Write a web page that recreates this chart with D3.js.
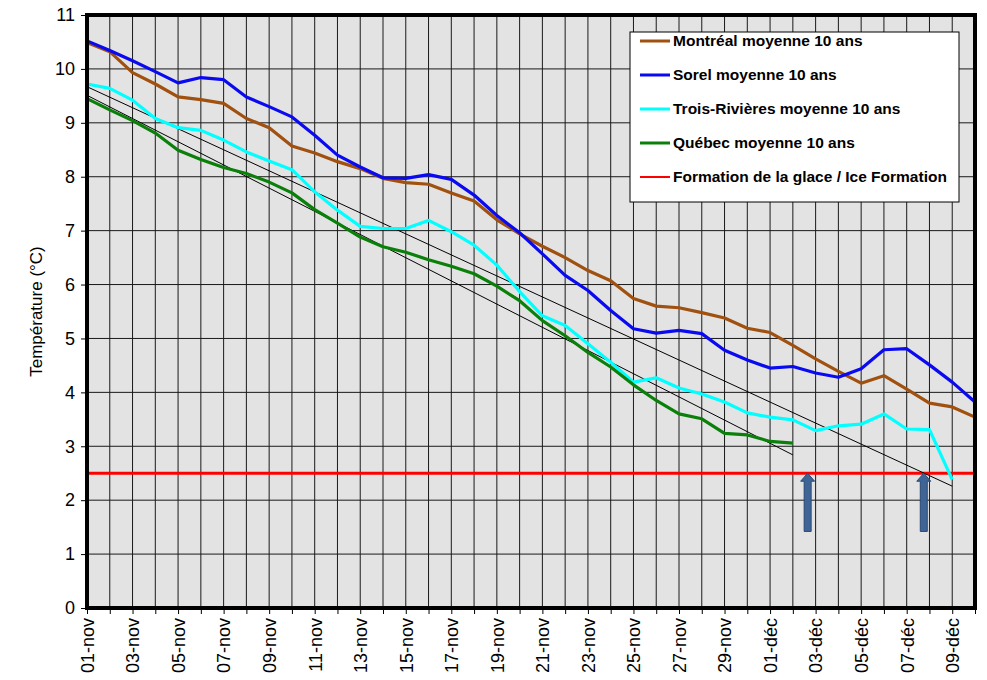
<!DOCTYPE html>
<html>
<head>
<meta charset="utf-8">
<script src="https://cdn.jsdelivr.net/npm/d3@7"></script>
<style>
  body { margin: 0; background: #fff; }
  text { font-family: Arial, "Liberation Sans", sans-serif; }
</style>
</head>
<body>
<div id="chart"></div>
<script>
// categories (one per day)
const dates = ["01-nov","02-nov","03-nov","04-nov","05-nov","06-nov","07-nov","08-nov","09-nov","10-nov",
  "11-nov","12-nov","13-nov","14-nov","15-nov","16-nov","17-nov","18-nov","19-nov","20-nov",
  "21-nov","22-nov","23-nov","24-nov","25-nov","26-nov","27-nov","28-nov","29-nov","30-nov",
  "01-déc","02-déc","03-déc","04-déc","05-déc","06-déc","07-déc","08-déc","09-déc","10-déc"];

const montreal = [10.49,10.32,9.93,9.72,9.48,9.43,9.36,9.08,8.91,8.57,
  8.44,8.28,8.15,7.97,7.89,7.86,7.70,7.55,7.20,6.94,
  6.71,6.50,6.26,6.07,5.74,5.60,5.57,5.48,5.38,5.19,
  5.11,4.87,4.62,4.39,4.17,4.31,4.06,3.80,3.73,3.54];

const sorel = [10.52,10.34,10.15,9.95,9.74,9.84,9.80,9.48,9.30,9.11,
  8.77,8.40,8.18,7.98,7.97,8.04,7.95,7.66,7.28,6.96,
  6.57,6.17,5.89,5.52,5.18,5.10,5.15,5.09,4.78,4.60,
  4.45,4.48,4.36,4.28,4.44,4.79,4.81,4.51,4.19,3.82];

const troisRivieres = [9.72,9.64,9.42,9.08,8.91,8.86,8.68,8.46,8.29,8.13,
  7.72,7.38,7.08,7.04,7.04,7.19,6.98,6.73,6.36,5.87,
  5.42,5.24,4.90,4.56,4.19,4.27,4.08,3.97,3.82,3.62,
  3.54,3.49,3.29,3.38,3.41,3.60,3.32,3.31,2.38,null];

const quebec = [9.45,9.24,9.04,8.81,8.49,8.32,8.17,8.06,7.90,7.70,
  7.39,7.14,6.88,6.70,6.60,6.46,6.34,6.20,5.97,5.70,
  5.33,5.05,4.74,4.47,4.14,3.85,3.60,3.51,3.24,3.21,
  3.09,3.06,null,null,null,null,null,null,null,null];

const iceLevel = 2.5;

// trend lines: [start date, start value, end date, end value]
const trendTR = ["01-nov", 9.67, "09-déc", 2.26];
const trendQc = ["01-nov", 9.51, "02-déc", 2.84];

// arrows: date index (fractional) where the trend meets ice level
const arrowAt = [31.65, 36.75];
const arrowBase = 1.42;

const yTicks = [0,1,2,3,4,5,6,7,8,9,10,11];

const series = [
  {name: "Montréal moyenne 10 ans", values: montreal, color: "#a0500f"},
  {name: "Sorel moyenne 10 ans", values: sorel, color: "#0a0af0"},
  {name: "Trois-Rivières moyenne 10 ans", values: troisRivieres, color: "#00ffff"},
  {name: "Québec moyenne 10 ans", values: quebec, color: "#0a800a"}
];

const W = 987, H = 680;
const margin = {top: 15, right: 12, bottom: 72, left: 87};
const width = W - margin.left - margin.right,
      height = H - margin.top - margin.bottom;

const svg = d3.select("#chart").append("svg")
  .attr("width", W).attr("height", H);

const g = svg.append("g")
  .attr("transform", `translate(${margin.left},${margin.top})`);

const x = d3.scalePoint().domain(dates).range([0, width]);
const xi = d3.scaleLinear().domain([0, dates.length - 1]).range([0, width]);
const y = d3.scaleLinear().domain([0, 11]).range([height, 0]);

// plot background
g.append("rect")
  .attr("width", width).attr("height", height)
  .attr("fill", "#e3e3e3");

// grid
g.append("g")
  .selectAll("line")
  .data(dates)
  .join("line")
    .attr("x1", d => x(d)).attr("x2", d => x(d))
    .attr("y1", 0).attr("y2", height)
    .attr("stroke", "#1a1a1a").attr("stroke-width", 1);

g.append("g")
  .selectAll("line")
  .data(yTicks)
  .join("line")
    .attr("x1", 0).attr("x2", width)
    .attr("y1", d => y(d)).attr("y2", d => y(d))
    .attr("stroke", "#1a1a1a").attr("stroke-width", 1);

// axes
const yAxis = g.append("g")
  .call(d3.axisLeft(y).tickValues(yTicks).tickSize(6).tickPadding(6));
yAxis.select(".domain").remove();
yAxis.selectAll("text").style("font-size", "18px").attr("fill", "#000");

const xAxis = g.append("g")
  .attr("transform", `translate(0,${height})`)
  .call(d3.axisBottom(x).tickSize(6).tickFormat(d => ""));
xAxis.select(".domain").remove();
xAxis.selectAll(".tick")
  .filter((d, i) => i % 2 === 0)
  .append("text")
    .attr("transform", "rotate(-90)")
    .attr("x", -10)
    .attr("dy", "0.35em")
    .attr("text-anchor", "end")
    .attr("fill", "#000")
    .style("font-size", "18px")
    .text(d => d);

// y label
svg.append("text")
  .attr("transform", `translate(36,${margin.top + height / 2}) rotate(-90)`)
  .attr("text-anchor", "middle")
  .attr("dy", "0.35em")
  .style("font-size", "17px")
  .text("Température (°C)");

// ice formation line
g.append("line")
  .attr("x1", 0).attr("x2", width)
  .attr("y1", y(iceLevel)).attr("y2", y(iceLevel))
  .attr("stroke", "#ff0000").attr("stroke-width", 3);

// trend lines
[trendTR, trendQc].forEach(t => {
  g.append("line")
    .attr("x1", x(t[0])).attr("y1", y(t[1]))
    .attr("x2", x(t[2])).attr("y2", y(t[3]))
    .attr("stroke", "#000").attr("stroke-width", 1);
});

// series lines
const line = d3.line()
  .defined(d => d != null)
  .x((d, i) => x(dates[i]))
  .y(d => y(d));

g.selectAll(".series")
  .data(series)
  .join("path")
    .attr("class", "series")
    .attr("fill", "none")
    .attr("stroke", d => d.color)
    .attr("stroke-width", 3.2)
    .attr("stroke-linejoin", "round")
    .attr("d", d => line(d.values));

// arrows
g.selectAll(".arrow")
  .data(arrowAt)
  .join("path")
    .attr("class", "arrow")
    .attr("fill", "#3f6596")
    .attr("stroke", "#2a4a75")
    .attr("stroke-width", 1)
    .attr("d", d => {
      const cx = xi(d), top = y(iceLevel), bot = y(arrowBase);
      const hw = 7, sw = 3.5, hh = 8;
      return `M${cx},${top} L${cx + hw},${top + hh} L${cx + sw},${top + hh} L${cx + sw},${bot}` +
             ` L${cx - sw},${bot} L${cx - sw},${top + hh} L${cx - hw},${top + hh} Z`;
    });

// frame
g.append("rect")
  .attr("width", width).attr("height", height)
  .attr("fill", "none")
  .attr("stroke", "#000").attr("stroke-width", 4);

// legend
const legendItems = series.map(s => ({name: s.name, color: s.color}))
  .concat([{name: "Formation de la glace / Ice Formation", color: "#ff0000"}]);

const legend = svg.append("g").attr("transform", "translate(630,32)");
legend.append("rect")
  .attr("width", 329).attr("height", 170)
  .attr("fill", "#fff").attr("stroke", "#000").attr("stroke-width", 1);

const li = legend.selectAll(".li")
  .data(legendItems)
  .join("g")
    .attr("class", "li")
    .attr("transform", (d, i) => `translate(0,${9 + i * 34})`);
li.append("line")
  .attr("x1", 10).attr("x2", 40)
  .attr("stroke", d => d.color)
  .attr("stroke-width", d => d.color === "#ff0000" ? 2 : 3);
li.append("text")
  .attr("x", 43).attr("dy", "0.35em")
  .style("font-size", "15.5px").style("font-weight", "bold")
  .text(d => d.name);
</script>
</body>
</html>
